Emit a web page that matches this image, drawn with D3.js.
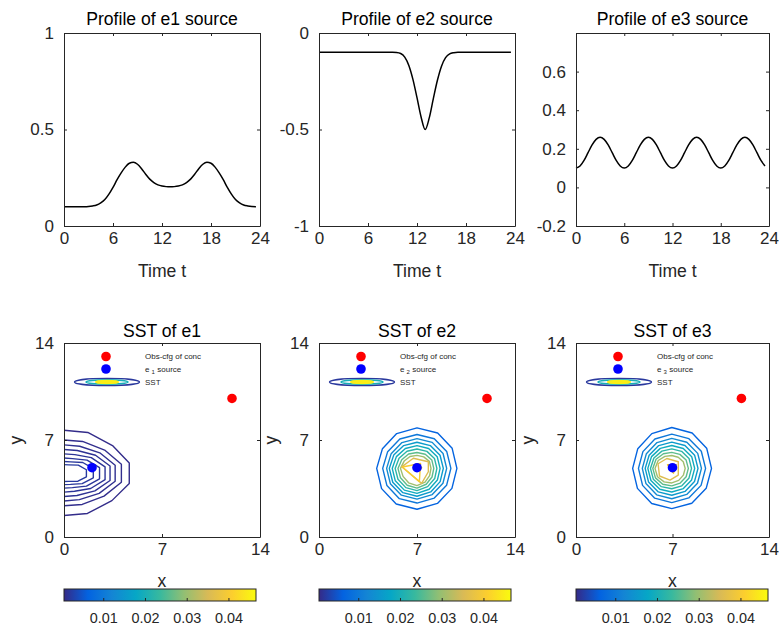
<!DOCTYPE html>
<html>
<head>
<meta charset="utf-8">
<script src="https://cdn.jsdelivr.net/npm/d3@7"></script>
<style>
  body { margin: 0; background: #fff; }
  svg { font-family: "Liberation Sans", Arial, sans-serif; }
</style>
</head>
<body>
<div id="chart"></div>
<script>
// ---- data ----
const times = [0, 0.5, 1, 1.5, 2, 2.5, 3, 3.5, 4, 4.5, 5, 5.5, 6, 6.5, 7, 7.5, 8, 8.5, 9, 9.5,
  10, 10.5, 11, 11.5, 12, 12.5, 13, 13.5, 14, 14.5, 15, 15.5, 16, 16.5, 17, 17.5, 18, 18.5, 19, 19.5,
  20, 20.5, 21, 21.5, 22, 22.5, 23, 23.5]

const e1Profile = [0.1, 0.1, 0.1, 0.1, 0.1, 0.1, 0.101, 0.104, 0.109, 0.12, 0.137, 0.165, 0.2, 0.24,
  0.275, 0.305, 0.325, 0.33, 0.32, 0.297, 0.268, 0.243, 0.225, 0.213, 0.207, 0.204, 0.203, 0.204,
  0.207, 0.213, 0.225, 0.243, 0.268, 0.297, 0.32, 0.33, 0.325, 0.305, 0.275, 0.24, 0.2, 0.165,
  0.137, 0.12, 0.109, 0.104, 0.101, 0.1]

const e2Profile = [-0.1, -0.1, -0.1, -0.1, -0.1, -0.1, -0.1, -0.1, -0.1, -0.1, -0.1, -0.1, -0.1, -0.1,
  -0.1, -0.1, -0.1, -0.1, -0.1, -0.101, -0.106, -0.125, -0.168, -0.24, -0.335, -0.435, -0.5, -0.44,
  -0.34, -0.245, -0.172, -0.128, -0.108, -0.102, -0.1, -0.1, -0.1, -0.1, -0.1, -0.1, -0.1, -0.1,
  -0.1, -0.1, -0.1, -0.1, -0.1, -0.1]

const e3Profile = [0.1, 0.111, 0.14, 0.18, 0.22, 0.249, 0.26, 0.249, 0.22, 0.18, 0.14, 0.111,
  0.1, 0.111, 0.14, 0.18, 0.22, 0.249, 0.26, 0.249, 0.22, 0.18, 0.14, 0.111,
  0.1, 0.111, 0.14, 0.18, 0.22, 0.249, 0.26, 0.249, 0.22, 0.18, 0.14, 0.111,
  0.1, 0.111, 0.14, 0.18, 0.22, 0.249, 0.26, 0.249, 0.22, 0.18, 0.14, 0.111]

const profileTitles = ['Profile of e1 source', 'Profile of e2 source', 'Profile of e3 source']
const profileYDomains = [[0, 1], [-1, 0], [-0.2, 0.8]]
const profileYTicks = [[0, 0.5, 1], [-1, -0.5, 0], [-0.2, 0, 0.2, 0.4, 0.6]]
const profileYLabels = [['0', '0.5', '1'], ['-1', '-0.5', '0'], ['-0.2', '0', '0.2', '0.4', '0.6']]
const timeTicks = [0, 6, 12, 18, 24]
const timeLabels = ['0', '6', '12', '18', '24']

const sstTitles = ['SST of e1', 'SST of e2', 'SST of e3']
const gridTicks = [0, 7, 14]
const gridLabels = ['0', '7', '14']
const obsPoint = [12, 10]
const sourcePoints = [[2, 5], [7, 5], [7, 5]]
const sourceSubs = ['1', '2', '3']

// contour rings: radii (data units) at given angles round a centre
const ringAngles = [0, 30, 60, 90, 120, 150, 180, 210, 240, 270, 300, 330]
const halfAngles = [-90, -60, -30, -9, 9, 30, 60, 90]

const e1Centre = [0, 4.6]
const e1Contours = [
  { level: 0.0008, r: [3.05, 3.35, 3.95, 4.72, 4.72, 4.0, 3.4, 3.1] },
  { level: 0.0010, r: [2.35, 2.6, 3.3, 4.15, 4.15, 3.35, 2.65, 2.4] },
  { level: 0.0012, r: [2.0, 2.2, 2.9, 3.7, 3.7, 2.95, 2.25, 2.05] },
  { level: 0.0014, r: [1.68, 1.85, 2.55, 3.33, 3.33, 2.6, 1.9, 1.72] },
  { level: 0.0016, r: [1.36, 1.5, 2.2, 2.97, 2.97, 2.25, 1.55, 1.4] },
  { level: 0.0018, r: [1.07, 1.2, 1.85, 2.57, 2.57, 1.9, 1.22, 1.1] },
  { level: 0.0020, r: [0.82, 0.93, 1.5, 2.12, 2.12, 1.55, 0.95, 0.85] },
  { level: 0.0022, r: [0.6, 0.68, 1.15, 1.62, 1.62, 1.18, 0.7, 0.62] }
]

const e2Centre = [7, 4.95]
const e2Contours = [
  { level: 0.0066, r: [2.85, 2.9, 2.95, 2.92, 2.9, 2.85, 2.88, 2.92, 2.97, 2.95, 2.92, 2.88] },
  { level: 0.0098, r: [2.42, 2.45, 2.47, 2.45, 2.45, 2.42, 2.45, 2.48, 2.52, 2.5, 2.47, 2.44] },
  { level: 0.0130, r: [2.12, 2.15, 2.17, 2.15, 2.15, 2.13, 2.17, 2.2, 2.23, 2.22, 2.18, 2.14] },
  { level: 0.0158, r: [1.88, 1.9, 1.9, 1.89, 1.9, 1.92, 1.98, 2.0, 2.02, 2.01, 1.96, 1.91] },
  { level: 0.0190, r: [1.65, 1.67, 1.66, 1.64, 1.66, 1.7, 1.77, 1.79, 1.81, 1.8, 1.74, 1.68] },
  { level: 0.0222, r: [1.42, 1.44, 1.42, 1.4, 1.43, 1.48, 1.56, 1.57, 1.6, 1.6, 1.52, 1.46] },
  { level: 0.0260, r: [1.2, 1.22, 1.18, 1.15, 1.2, 1.26, 1.36, 1.36, 1.4, 1.42, 1.32, 1.24] },
  { level: 0.0305, r: [1.0, 1.02, 0.96, 0.94, 0.99, 1.06, 1.18, 1.15, 1.2, 1.24, 1.15, 1.04] },
  { level: 0.0360, a: [30.6, 109.6, 174, 287, 343.5], r: [0.94, 0.775, 1.1, 1.13, 0.845] },
  { level: 0.0400, a: [54.5, 174.6, 280], r: [0.43, 1.05, 0.97] },
  { level: 0.0440, c: [7.12, 5.0], a: [0, 90, 180, 270], r: [0.22, 0.2, 0.2, 0.2] }
]

const e3Centre = [6.95, 4.95]
const e3Contours = [
  { level: 0.0066, r: [2.88, 2.92, 2.95, 2.95, 2.9, 2.85, 2.84, 2.88, 2.92, 2.9, 2.9, 2.88] },
  { level: 0.0098, r: [2.45, 2.47, 2.48, 2.47, 2.45, 2.42, 2.42, 2.45, 2.48, 2.47, 2.46, 2.45] },
  { level: 0.0130, r: [2.15, 2.17, 2.18, 2.17, 2.15, 2.13, 2.14, 2.17, 2.2, 2.19, 2.17, 2.15] },
  { level: 0.0158, r: [1.9, 1.91, 1.91, 1.9, 1.9, 1.9, 1.93, 1.95, 1.96, 1.94, 1.92, 1.9] },
  { level: 0.0190, r: [1.66, 1.67, 1.66, 1.65, 1.67, 1.7, 1.74, 1.75, 1.74, 1.7, 1.68, 1.66] },
  { level: 0.0222, r: [1.43, 1.44, 1.42, 1.41, 1.44, 1.5, 1.55, 1.55, 1.52, 1.47, 1.45, 1.43] },
  { level: 0.0260, r: [1.2, 1.2, 1.17, 1.16, 1.22, 1.32, 1.38, 1.37, 1.32, 1.26, 1.22, 1.2] },
  { level: 0.0305, r: [0.97, 0.96, 0.93, 0.93, 1.0, 1.14, 1.22, 1.2, 1.12, 1.05, 1.0, 0.97] },
  { level: 0.0360, a: [45.6, 116.9, 161.4, 211.5, 261.2, 314.4], r: [0.67, 0.8, 1.05, 1.05, 0.85, 0.67] },
  { level: 0.0410, c: [7.0, 5.0], a: [40, 150, 280], r: [0.35, 0.42, 0.4] },
  { level: 0.0440, c: [7.05, 5.0], a: [0, 90, 180, 270], r: [0.2, 0.2, 0.2, 0.2] }
]

const cbDomain = [0.0006, 0.0466]
const cbTicks = [0.01, 0.02, 0.03, 0.04]
const cbLabels = ['0.01', '0.02', '0.03', '0.04']
const parulaStops = ['#352a87', '#0363e1', '#1485d4', '#06a7c6', '#38b99e', '#92bf73', '#d9ba56', '#fcce2e', '#f9fb0e']

// ---- layout ----
const width = 779
const height = 630
const colLeft = [64, 319, 576]
const colWidth = [196, 196, 193]
const topRow = { top: 33, bottom: 226 }
const bottomRow = { top: 343, bottom: 537 }
const ink = '#262626'

const svg = d3.select('#chart').append('svg')
  .attr('width', width)
  .attr('height', height)

const parula = d3.scaleLinear()
  .domain(parulaStops.map((c, i) => cbDomain[0] + (cbDomain[1] - cbDomain[0]) * i / (parulaStops.length - 1)))
  .range(parulaStops)
  .clamp(true)

// box with inward ticks on all four sides
function drawFrame (g, x, y, xTicks, xLabels, yTicks, yLabels) {
  let [y0, y1] = y.range()
  let [x0, x1] = x.range()
  let axes = [
    g.append('g').attr('transform', `translate(0,${y0})`)
      .call(d3.axisBottom(x).tickValues(xTicks).tickFormat((d, i) => xLabels[i])
        .tickSize(-3).tickSizeOuter(0).tickPadding(6)),
    g.append('g').attr('transform', `translate(0,${y1})`)
      .call(d3.axisTop(x).tickValues(xTicks).tickFormat('').tickSize(-3).tickSizeOuter(0)),
    g.append('g').attr('transform', `translate(${x0},0)`)
      .call(d3.axisLeft(y).tickValues(yTicks).tickFormat((d, i) => yLabels[i])
        .tickSize(-3).tickSizeOuter(0).tickPadding(10)),
    g.append('g').attr('transform', `translate(${x1},0)`)
      .call(d3.axisRight(y).tickValues(yTicks).tickFormat('').tickSize(-3).tickSizeOuter(0))
  ]
  axes.forEach(a => {
    a.attr('font-family', null).attr('font-size', 17)
    a.selectAll('path, line').attr('stroke', ink).attr('stroke-width', 1)
    a.selectAll('text').attr('fill', ink)
  })
}

// ---- profiles ----
const profiles = [e1Profile, e2Profile, e3Profile]

profiles.forEach((values, i) => {
  let g = svg.append('g')
  let x = d3.scaleLinear().domain([0, 24]).range([colLeft[i], colLeft[i] + colWidth[i]])
  let y = d3.scaleLinear().domain(profileYDomains[i]).range([topRow.bottom, topRow.top])

  let line = d3.line()
    .x((d, k) => x(times[k]))
    .y(d => y(d))
    .curve(d3.curveMonotoneX)

  g.append('path')
    .datum(values)
    .attr('fill', 'none')
    .attr('stroke', '#000')
    .attr('stroke-width', 1.5)
    .attr('d', line)

  drawFrame(g, x, y, timeTicks, timeLabels, profileYTicks[i], profileYLabels[i])

  g.append('text')
    .attr('x', colLeft[i] + colWidth[i] / 2)
    .attr('y', 25)
    .attr('text-anchor', 'middle')
    .attr('font-size', 17.6)
    .attr('fill', '#000')
    .text(profileTitles[i])

  g.append('text')
    .attr('x', colLeft[i] + colWidth[i] / 2)
    .attr('y', 277)
    .attr('text-anchor', 'middle')
    .attr('font-size', 17.6)
    .attr('fill', ink)
    .text('Time t')
})

// ---- SST panels ----
const contourSets = [e1Contours, e2Contours, e3Contours]
const centres = [e1Centre, e2Centre, e3Centre]

const defs = svg.append('defs')
const grad = defs.append('linearGradient').attr('id', 'parula')
parulaStops.forEach((c, i) => {
  grad.append('stop')
    .attr('offset', `${100 * i / (parulaStops.length - 1)}%`)
    .attr('stop-color', c)
})

contourSets.forEach((contours, i) => {
  let g = svg.append('g')
  let left = colLeft[i]
  let x = d3.scaleLinear().domain([0, 14]).range([left, left + colWidth[i]])
  let y = d3.scaleLinear().domain([0, 14]).range([bottomRow.bottom, bottomRow.top])

  defs.append('clipPath').attr('id', `clip${i}`)
    .append('rect')
    .attr('x', left).attr('y', bottomRow.top)
    .attr('width', colWidth[i]).attr('height', bottomRow.bottom - bottomRow.top)

  let plot = g.append('g').attr('clip-path', `url(#clip${i})`)
  let open = i === 0
  let line = d3.line()
    .x(p => x(p[0]))
    .y(p => y(p[1]))
    .curve(open ? d3.curveLinear : d3.curveLinearClosed)

  contours.forEach(c => {
    let centre = c.c || centres[i]
    let angles = c.a || (open ? halfAngles : ringAngles)
    let pts = angles.map((a, k) => [
      centre[0] + c.r[k] * Math.cos(a * Math.PI / 180),
      centre[1] + c.r[k] * Math.sin(a * Math.PI / 180)
    ])
    plot.append('path')
      .attr('d', line(pts))
      .attr('fill', 'none')
      .attr('stroke', parula(c.level))
      .attr('stroke-width', 1.4)
      .attr('stroke-linejoin', 'round')
  })

  plot.append('circle')
    .attr('cx', x(obsPoint[0])).attr('cy', y(obsPoint[1]))
    .attr('r', 4.8).attr('fill', '#ff0000')
  plot.append('circle')
    .attr('cx', x(sourcePoints[i][0])).attr('cy', y(sourcePoints[i][1]))
    .attr('r', 4.8).attr('fill', '#0000ff')

  // legend
  let lg = g.append('g')
  lg.append('circle').attr('cx', left + 42).attr('cy', 356.5).attr('r', 4.8).attr('fill', '#ff0000')
  lg.append('circle').attr('cx', left + 42).attr('cy', 369).attr('r', 4.8).attr('fill', '#0000ff')
  lg.append('ellipse').attr('cx', left + 43).attr('cy', 382).attr('rx', 32.5).attr('ry', 3.6)
    .attr('fill', 'none').attr('stroke', parula(0.002)).attr('stroke-width', 1.4)
  lg.append('ellipse').attr('cx', left + 43).attr('cy', 382).attr('rx', 21).attr('ry', 2.2)
    .attr('fill', 'none').attr('stroke', parula(0.02)).attr('stroke-width', 1.4)
  lg.append('ellipse').attr('cx', left + 43).attr('cy', 382).attr('rx', 11).attr('ry', 1)
    .attr('fill', 'none').attr('stroke', parula(0.045)).attr('stroke-width', 2.4)

  let lt = lg.append('g').attr('font-size', 8).attr('fill', ink)
  lt.append('text').attr('x', left + 81).attr('y', 359).text('Obs-cfg of conc')
  let st = lt.append('text').attr('x', left + 81).attr('y', 371.5)
  st.append('tspan').text('e')
  st.append('tspan').attr('font-size', 6).attr('dx', 2).attr('dy', 2).text(sourceSubs[i])
  st.append('tspan').attr('dx', 2.5).attr('dy', -2).text('source')
  lt.append('text').attr('x', left + 81).attr('y', 384.5).text('SST')

  drawFrame(g, x, y, gridTicks, gridLabels, gridTicks, gridLabels)

  g.append('text')
    .attr('x', left + colWidth[i] / 2)
    .attr('y', 337)
    .attr('text-anchor', 'middle')
    .attr('font-size', 17.6)
    .attr('fill', '#000')
    .text(sstTitles[i])

  g.append('text')
    .attr('x', left + colWidth[i] / 2)
    .attr('y', 587)
    .attr('text-anchor', 'middle')
    .attr('font-size', 17.6)
    .attr('fill', ink)
    .text('x')

  g.append('text')
    .attr('transform', `translate(${left - 42},${(bottomRow.top + bottomRow.bottom) / 2}) rotate(-90)`)
    .attr('text-anchor', 'middle')
    .attr('font-size', 17.6)
    .attr('fill', ink)
    .text('y')

  // colour bar
  let cbX = d3.scaleLinear().domain(cbDomain).range([left, left + 192])
  let cbTop = 589
  let cbH = 12
  g.append('rect')
    .attr('x', cbX.range()[0]).attr('y', cbTop)
    .attr('width', 192).attr('height', cbH)
    .attr('fill', 'url(#parula)')
  let cbAxis = g.append('g').attr('transform', `translate(0,${cbTop + cbH})`)
    .call(d3.axisBottom(cbX).tickValues(cbTicks).tickFormat((d, k) => cbLabels[k])
      .tickSize(-3).tickSizeOuter(0).tickPadding(12))
  cbAxis.attr('font-family', null).attr('font-size', 14.4)
  cbAxis.select('.domain').remove()
  cbAxis.selectAll('line').attr('stroke', ink)
  cbAxis.selectAll('text').attr('fill', ink)
  g.append('rect')
    .attr('x', cbX.range()[0]).attr('y', cbTop)
    .attr('width', 192).attr('height', cbH)
    .attr('fill', 'none').attr('stroke', ink).attr('stroke-width', 1)
})
</script>
</body>
</html>
